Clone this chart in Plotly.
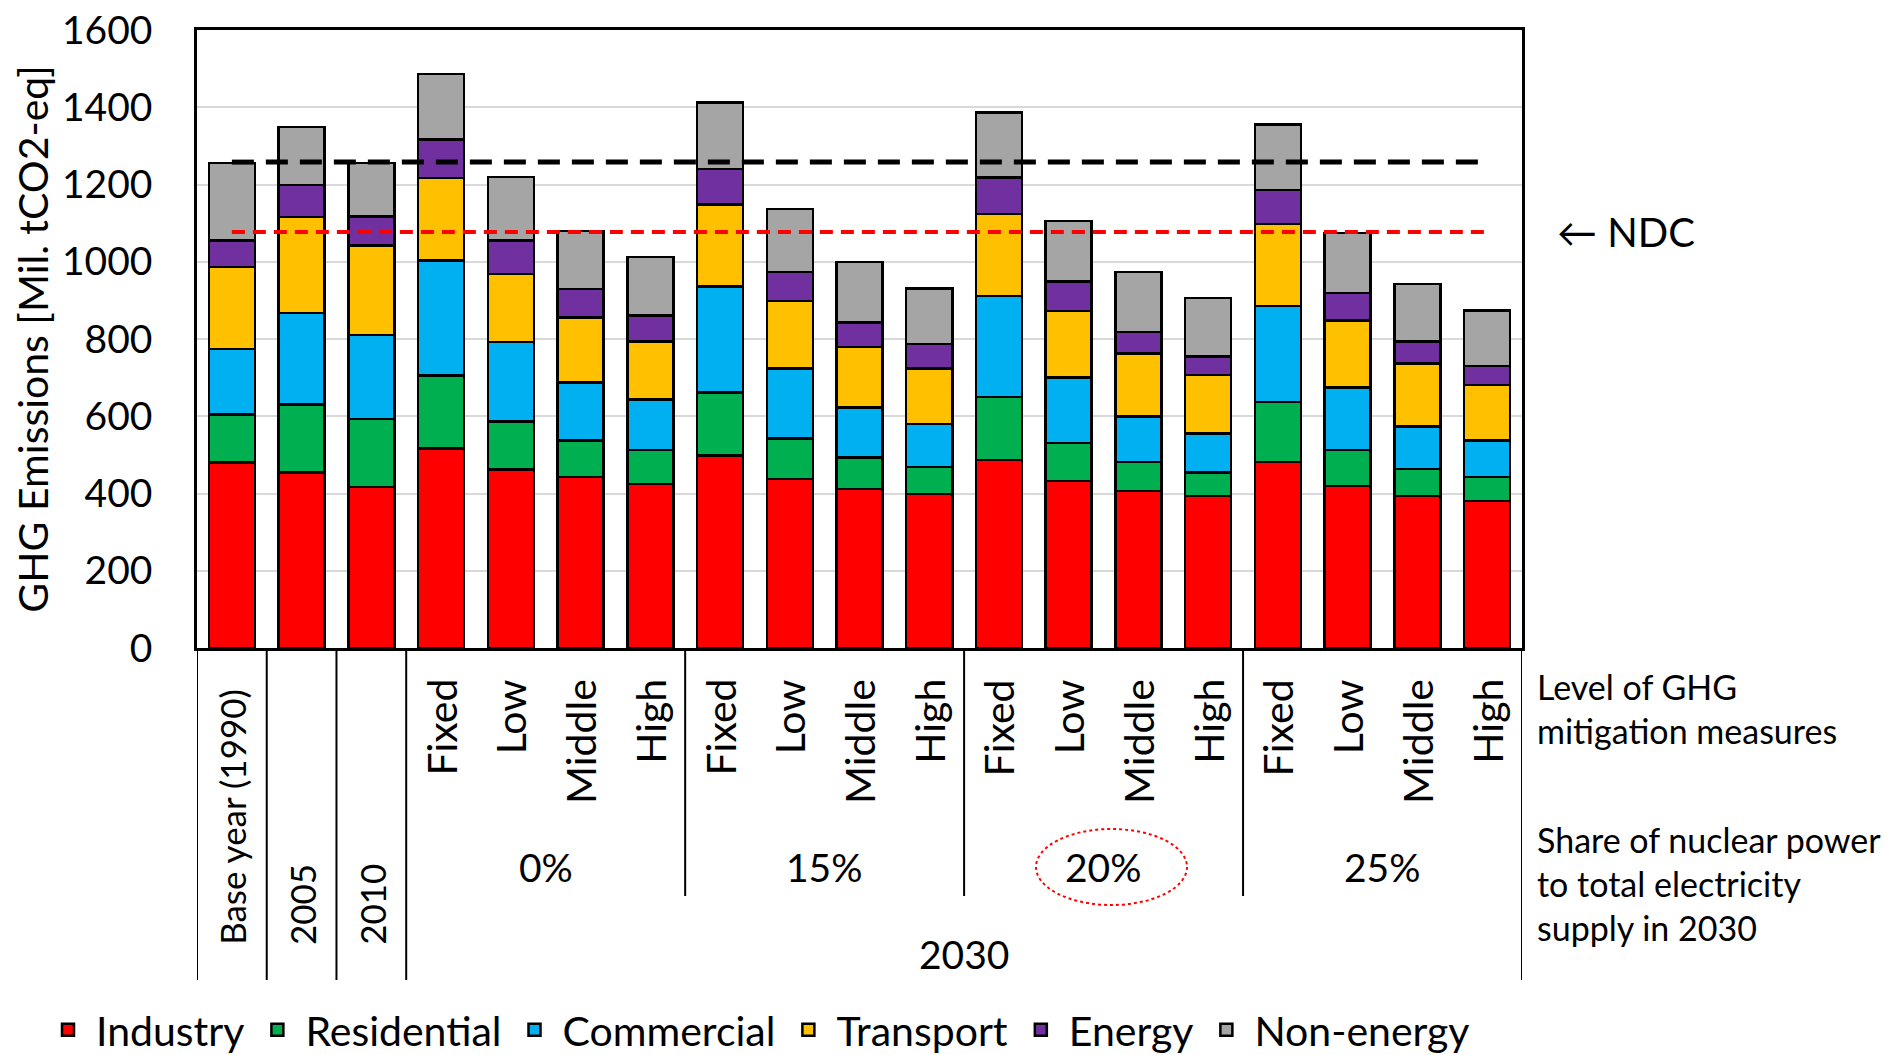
import plotly.graph_objects as go

# ---------------- data ----------------
categories = ["Base year (1990)", "2005", "2010",
              "0% Fixed", "0% Low", "0% Middle", "0% High",
              "15% Fixed", "15% Low", "15% Middle", "15% High",
              "20% Fixed", "20% Low", "20% Middle", "20% High",
              "25% Fixed", "25% Low", "25% Middle", "25% High"]
level_labels = ["Fixed", "Low", "Middle", "High"]
year_labels = ["Base year (1990)", "2005", "2010"]
share_labels = ["0%", "15%", "20%", "25%"]

industry = [480, 454, 417, 517, 462, 443, 424, 499, 437, 412, 399, 487, 432, 407, 394, 481, 419, 393, 380]
residential = [125, 177, 176, 189, 125, 94, 89, 162, 106, 81, 69, 163, 99, 75, 61, 156, 94, 70, 63]
commercial = [169, 236, 218, 297, 205, 150, 131, 275, 180, 130, 112, 261, 169, 117, 101, 248, 161, 111, 94]
transport = [212, 249, 231, 214, 176, 169, 149, 212, 175, 156, 143, 213, 173, 163, 151, 213, 174, 163, 144]
energy = [69, 83, 75, 100, 87, 74, 68, 92, 76, 64, 64, 94, 76, 56, 48, 88, 71, 56, 49]
non_energy = [201, 150, 139, 169, 164, 150, 151, 172, 163, 156, 144, 168, 156, 156, 151, 169, 156, 150, 144]

base_year_level = 1258
ndc_level = 1077

series = [("Industry", industry, "#FF0000"),
          ("Residential", residential, "#00B050"),
          ("Commercial", commercial, "#00B0F0"),
          ("Transport", transport, "#FFC000"),
          ("Energy", energy, "#7030A0"),
          ("Non-energy", non_energy, "#A5A5A5")]

FONT = "Lato, 'Open Sans', sans-serif"

fig = go.Figure()
for name, vals, col in series:
    fig.add_trace(go.Bar(x=categories, y=vals, name=name,
                         marker=dict(color=col, line=dict(color="black", width=2.5))))

fig.add_trace(go.Scatter(x=[categories[0], categories[-1]], y=[base_year_level, base_year_level],
                         mode="lines", showlegend=False, hoverinfo="skip",
                         line=dict(color="black", width=5, dash="22px,12px")))
fig.add_trace(go.Scatter(x=[categories[0], categories[-1]], y=[ndc_level, ndc_level],
                         mode="lines", showlegend=False, hoverinfo="skip",
                         line=dict(color="#FF0000", width=4, dash="13px,8px")))

# page body has an 8px margin: the figure starts at screen (8, 8)
OFF = 8
W, H = 1893 - OFF, 1055 - OFF
ML, MR, MT, MB = 197 - OFF, 371, 30 - OFF, 407
PH = H - MT - MB
PW = W - ML - MR
X0, Y0 = 197, 648  # screen position of plot-area left / bottom


def py(Y):
    return (Y0 - Y) / PH


def px(X):
    return (X - X0) / PW


annotations = []
# level labels (Fixed / Low / Middle / High)
for i in range(3, len(categories)):
    annotations.append(dict(x=i, xref="x", y=py(677), yref="paper", yanchor="top",
                            xanchor="center", text=level_labels[(i - 3) % 4], textangle=-90,
                            showarrow=False, font=dict(family=FONT, size=41, color="black")))
# year labels
for i, lab in enumerate(year_labels):
    annotations.append(dict(x=i, xref="x", y=py(947), yref="paper", yanchor="bottom",
                            xanchor="center", text=lab, textangle=-90,
                            showarrow=False, font=dict(family=FONT, size=35, color="black")))
# share labels
for g, lab in enumerate(share_labels):
    annotations.append(dict(x=3 + 4 * g + 1.5, xref="x", y=py(867), yref="paper", yanchor="middle",
                            xanchor="center", text=lab, showarrow=False,
                            font=dict(family=FONT, size=39, color="black")))
annotations.append(dict(x=(3 + 18) / 2, xref="x", y=py(954), yref="paper", yanchor="middle",
                        xanchor="center", text="2030", showarrow=False,
                        font=dict(family=FONT, size=39, color="black")))
# right side descriptions
annotations.append(dict(x=px(1535), xref="paper", y=py(709), yref="paper", yanchor="middle",
                        xanchor="left", align="left", showarrow=False,
                        text="Level of GHG<br>mitigation measures",
                        font=dict(family=FONT, size=34, color="black")))
annotations.append(dict(x=px(1535), xref="paper", y=py(883), yref="paper", yanchor="middle",
                        xanchor="left", align="left", showarrow=False,
                        text="Share of nuclear power<br>to total electricity<br>supply in 2030",
                        font=dict(family=FONT, size=34, color="black")))
# NDC label
annotations.append(dict(x=px(1555), xref="paper", y=ndc_level, yref="y", yanchor="middle",
                        xanchor="left", showarrow=False, text="\u2190 NDC",
                        font=dict(family=FONT, size=40, color="black")))

shapes = []
long_bounds = [-0.5, 0.5, 1.5, 2.5, 18.5]
short_bounds = [6.5, 10.5, 14.5]
for b in long_bounds:
    shapes.append(dict(type="line", xref="x", yref="paper", x0=b, x1=b, y0=0, y1=py(980),
                       line=dict(color="black", width=2)))
for b in short_bounds:
    shapes.append(dict(type="line", xref="x", yref="paper", x0=b, x1=b, y0=0, y1=py(896),
                       line=dict(color="black", width=2)))
# dotted ellipse around 20%
shapes.append(dict(type="circle", xref="paper", yref="paper",
                   x0=px(1036), x1=px(1187), y0=py(905), y1=py(829),
                   line=dict(color="#FF0000", width=2, dash="dot")))

fig.update_layout(
    width=W, height=H,
    margin=dict(l=ML, r=MR, t=MT, b=MB, autoexpand=False),
    barmode="stack", bargap=0.34,
    plot_bgcolor="white", paper_bgcolor="white",
    font=dict(family=FONT, color="black"),
    showlegend=True,
    legend=dict(orientation="h", x=px(40), xanchor="left", y=py(1030), yanchor="middle",
                traceorder="normal", font=dict(family=FONT, size=41, color="black"),
                itemwidth=46, bgcolor="rgba(0,0,0,0)"),
    annotations=annotations,
    shapes=shapes,
)
fig.update_xaxes(type="category", range=[-0.5, 18.5], showticklabels=False, ticks="",
                 showline=True, mirror=True, linecolor="black", linewidth=3,
                 showgrid=False, zeroline=False)
fig.update_yaxes(range=[0, 1600], dtick=200, showgrid=True, gridcolor="#D9D9D9", gridwidth=2,
                 showline=True, mirror=True, linecolor="black", linewidth=2.5,
                 zeroline=False, ticks="", ticklabelstandoff=34, ticklabeloverflow="allow",
                 tickfont=dict(family=FONT, size=39, color="black"),
                 title=dict(text="GHG Emissions [Mil. tCO2-eq]", standoff=14,
                            font=dict(family=FONT, size=41, color="black")))

fig.write_html("out.html")
